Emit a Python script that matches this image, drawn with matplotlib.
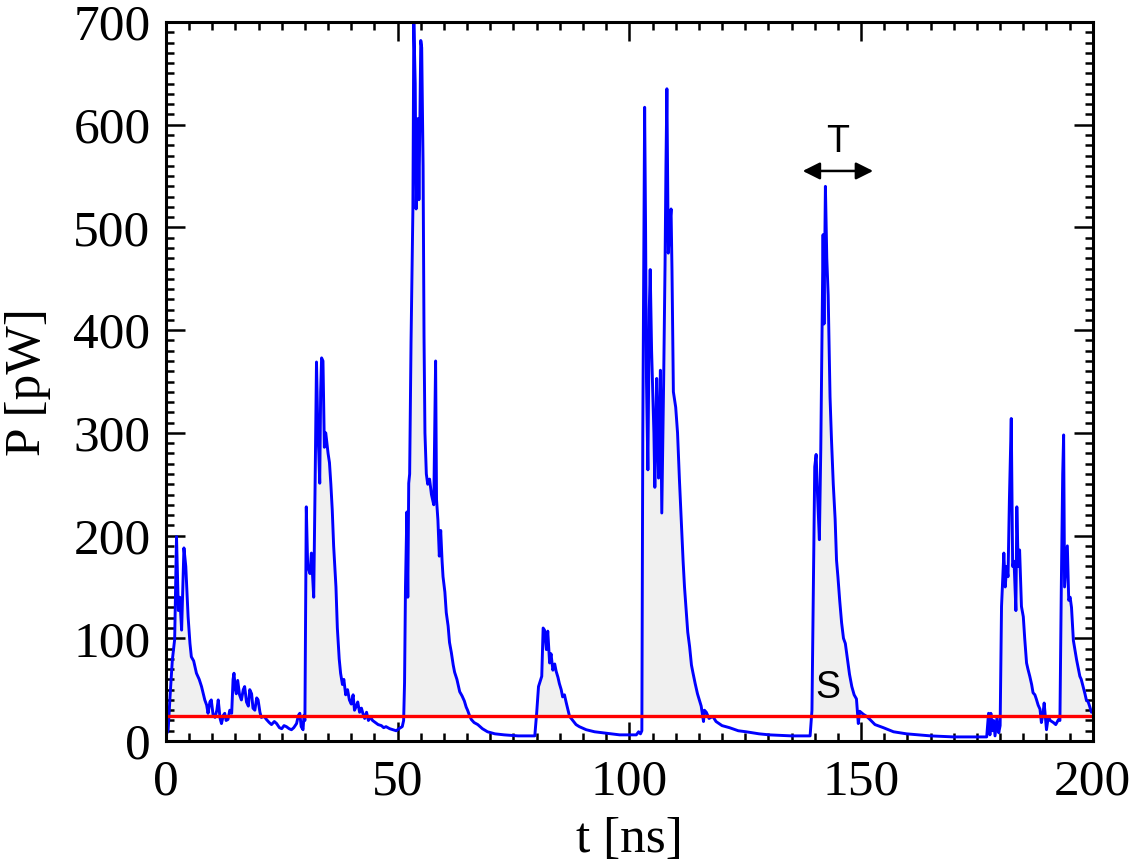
import numpy as np
import matplotlib
matplotlib.use("Agg")
import matplotlib.pyplot as plt
from matplotlib.ticker import MultipleLocator

t_ns = [
    0.0, 0.5, 0.9, 1.4, 1.9, 2.3, 2.7, 3.0, 3.4, 3.9, 4.3, 4.8, 5.2, 5.5, 6.0, 6.6, 7.2, 7.7, 8.4, 8.8,
    9.1, 9.5, 9.8, 10.2, 10.6, 11.0, 11.3, 11.7, 12.0, 12.4, 12.7, 13.0, 13.4, 13.8, 14.2, 14.5, 14.7, 15.0,
    15.2, 15.5, 15.9, 16.3, 16.7, 17.0, 17.4, 17.8, 18.1, 18.5, 18.8, 19.2, 19.6, 19.9, 20.3, 20.6, 21.2,
    21.7, 22.3, 22.8, 23.4, 23.9, 24.5, 25.0, 25.5, 26.0, 26.6, 27.1, 27.6, 28.2, 28.6, 28.9, 29.2, 29.6,
    29.8, 30.0,
    30.3, 30.6, 31.1, 31.4, 31.9, 32.2, 32.5, 32.8, 33.0, 33.2, 33.4, 33.6, 33.9, 34.2, 34.5, 34.7, 35.0,
    35.3, 35.6, 35.9, 36.2, 36.7, 37.0, 37.4, 37.7, 38.1, 38.4, 38.8, 39.2, 39.6, 40.0, 40.4, 40.7, 41.0,
    41.4, 41.8, 42.2, 42.5, 42.9, 43.3, 43.7, 44.2, 44.6, 45.2, 45.8, 46.5, 47.0, 47.5, 48.3, 49.0, 49.7,
    50.3, 51.0, 51.3,
    51.5, 51.7, 52.0, 52.2, 52.4, 52.6, 52.9, 53.1, 53.3, 53.5, 53.8, 54.0, 54.2, 54.4, 54.6, 54.8, 55.0,
    55.2, 55.5, 55.7, 55.9, 56.2, 56.5, 56.9, 57.3, 57.8, 58.2, 58.4, 58.7, 59.0, 59.3, 59.6, 59.8, 60.2,
    60.5, 60.9, 61.2, 61.6, 62.0, 62.3, 62.8, 63.4, 63.9, 64.4, 64.8, 65.1, 65.5, 65.9, 66.5, 67.3, 68.3,
    69.4, 71.0, 73.0, 76.0, 79.6,
    80.0, 80.4, 81.1, 81.4, 81.7, 82.1, 82.4, 82.8, 83.1, 83.5, 83.9, 84.2, 84.6, 84.9, 85.3, 85.6, 86.0,
    86.4, 87.1, 87.8, 88.5, 89.2, 90.7, 92.5, 94.3, 97.9, 101.5, 102.0, 102.4,
    102.7, 102.9, 103.3, 103.5, 103.7, 104.0, 104.3, 104.5, 104.8, 105.0, 105.3, 105.5, 105.9, 106.1,
    106.3, 106.7, 107.0, 107.4, 107.7, 107.9, 108.1, 108.4, 108.7, 109.0, 109.2, 109.5, 110.0, 110.4,
    110.8, 111.2, 111.6, 111.9, 112.3, 112.6, 113.0, 113.4, 113.7, 114.2, 114.7, 115.1, 115.5, 116.0,
    116.2, 116.6, 117.2, 118.0, 118.7, 120.0, 121.6, 123.5, 125.2, 128.0, 130.2, 135.0,
    139.0, 139.4, 139.7, 140.0, 140.3, 140.6, 141.0, 141.3, 141.6, 141.8, 142.0, 142.3, 142.6, 142.9,
    143.3, 143.6, 144.0, 144.4, 144.7, 145.0, 145.4, 145.8, 146.2, 146.6, 146.9, 147.5, 148.0, 148.5,
    149.0, 149.4, 149.7, 150.5, 151.2, 151.9, 153.0, 154.8, 157.0, 159.8, 165.0, 170.0, 177.1,
    177.5, 177.8, 178.0, 178.3, 178.6, 178.9, 179.3, 179.7, 180.0, 180.3, 180.8, 181.1, 181.4, 181.7,
    182.0, 182.4, 182.7, 183.0, 183.4, 183.6, 183.9, 184.2, 184.6, 185.0, 185.3, 185.7, 186.0, 186.4,
    186.8, 187.1, 187.5, 187.8, 188.2, 188.6, 188.9, 189.2, 189.5, 190.0, 190.4, 190.8, 191.5, 192.0,
    192.6, 192.9, 193.2, 193.5, 193.7, 193.9, 194.2, 194.5, 194.8, 195.1, 195.4, 195.8, 196.1, 196.5,
    196.8, 197.2, 197.5, 197.9, 198.3, 198.6, 199.0, 199.3, 199.7, 200.0,
]
power_pw = [
    5, 11, 43, 79, 99, 199, 127, 140, 108, 188, 170, 121, 95, 82, 78, 66, 60, 53, 40, 35,
    27, 38, 40, 25, 23, 30, 40, 22, 17, 25, 27, 20, 21, 30, 27, 60, 66, 50,
    46, 59, 45, 40, 50, 53, 38, 34, 50, 46, 32, 30, 42, 40, 28, 23, 24,
    21, 18, 16, 19, 17, 13, 12, 15, 14, 12, 11, 13, 17, 25, 27, 14, 11,
    25, 20,
    228, 170, 163, 183, 140, 250, 369, 300, 280, 251, 340, 373, 370, 286, 300, 292, 280,
    271, 250, 225, 190, 150, 110, 80, 66, 55, 60, 45, 50, 40, 36, 45, 30, 33,
    38, 28, 32, 27, 22, 28, 20, 23, 20, 18, 16, 15, 13, 14, 12, 11, 10,
    12, 14, 20,
    57, 150, 223, 140, 251, 260, 389, 450, 518, 700, 640, 518, 560, 606, 527, 600, 682,
    675, 560, 394, 300, 260, 250, 255, 240, 230, 370, 235, 215, 180, 205, 175, 160, 145,
    125, 112, 96, 86, 74, 67, 60, 48, 44, 39, 33, 30, 25, 21, 18, 16, 12,
    9, 7, 6, 5, 5,
    27, 53, 63, 110, 108, 89, 107, 76, 85, 69, 75, 68, 62, 56, 50, 43, 45,
    37, 24, 20, 16, 14, 11, 9, 8, 6, 6, 9, 7,
    10, 300, 617, 500, 350, 264, 420, 459, 380, 349, 300, 247, 353, 300,
    256, 361, 222, 350, 463, 560, 635, 475, 500, 518, 459, 340, 325, 300,
    255, 215, 175, 150, 125, 106, 92, 74, 67, 56, 46, 40, 34, 19,
    30, 28, 22, 24, 19, 15, 13, 10, 9, 7, 6, 5,
    5, 30, 150, 267, 279, 240, 196, 283, 406, 493, 406, 540, 470, 434,
    335, 295, 250, 216, 176, 160, 136, 115, 100, 95, 85, 65, 53, 45,
    41, 17, 29, 26, 24, 21, 16, 13, 9, 7, 5, 4, 4,
    27, 6, 27, 10, 20, 5, 22, 8, 15, 131, 183, 150, 170, 160,
    235, 314, 170, 175, 127, 228, 170, 186, 131, 121, 100, 76, 70, 63,
    55, 47, 45, 41, 35, 31, 18, 25, 37, 11, 24, 20, 18, 16,
    21, 20, 150, 260, 298, 150, 170, 190, 137, 140, 130, 98, 90, 79,
    72, 63, 60, 53, 46, 40, 38, 34, 28, 30,
]
threshold_pw = 24

plt.rcParams['font.family'] = ['Liberation Serif', 'DejaVu Serif']
plt.rcParams['font.size'] = 37

t = np.array(t_ns)
p = np.array(power_pw, dtype=float)

fig = plt.figure(figsize=(11.36, 8.67), dpi=100)
ax = fig.add_axes([0.146, 0.1453, 0.816, 0.8293])

ax.fill_between(t, p, threshold_pw, where=p >= threshold_pw, interpolate=True,
                color='#f0f0f0', linewidth=0)
ax.plot(t, p, color='#0000ff', linewidth=2.1)
ax.axhline(threshold_pw, color='#ff0000', linewidth=2.4)

# T arrow and S label
ax.annotate('', xy=(137.4, 555), xytext=(152.6, 555),
            arrowprops=dict(arrowstyle='<|-|>', color='black', lw=1.8,
                            mutation_scale=26, shrinkA=0, shrinkB=0))
ax.text(145, 583, 'T', family='Liberation Sans', fontsize=27, ha='center', va='center')
ax.text(142.8, 52, 'S', family='Liberation Sans', fontsize=27, ha='center', va='center')

ax.set_xlim(0, 200)
ax.set_ylim(0, 700)
ax.xaxis.set_major_locator(MultipleLocator(50))
ax.xaxis.set_minor_locator(MultipleLocator(5))
ax.yaxis.set_major_locator(MultipleLocator(100))
ax.yaxis.set_minor_locator(MultipleLocator(10))
ax.tick_params(which='both', direction='in', top=True, right=True, width=1.8)
ax.tick_params(which='major', length=14)
ax.tick_params(which='minor', length=6)
ax.tick_params(axis='x', which='major', pad=13)
ax.tick_params(axis='y', which='major', pad=11)
for s in ax.spines.values():
    s.set_linewidth(2.2)

ax.set_xlabel('t [ns]', labelpad=8)
ax.set_ylabel('P [pW]', labelpad=16)

fig.savefig('out.png', dpi=100)
